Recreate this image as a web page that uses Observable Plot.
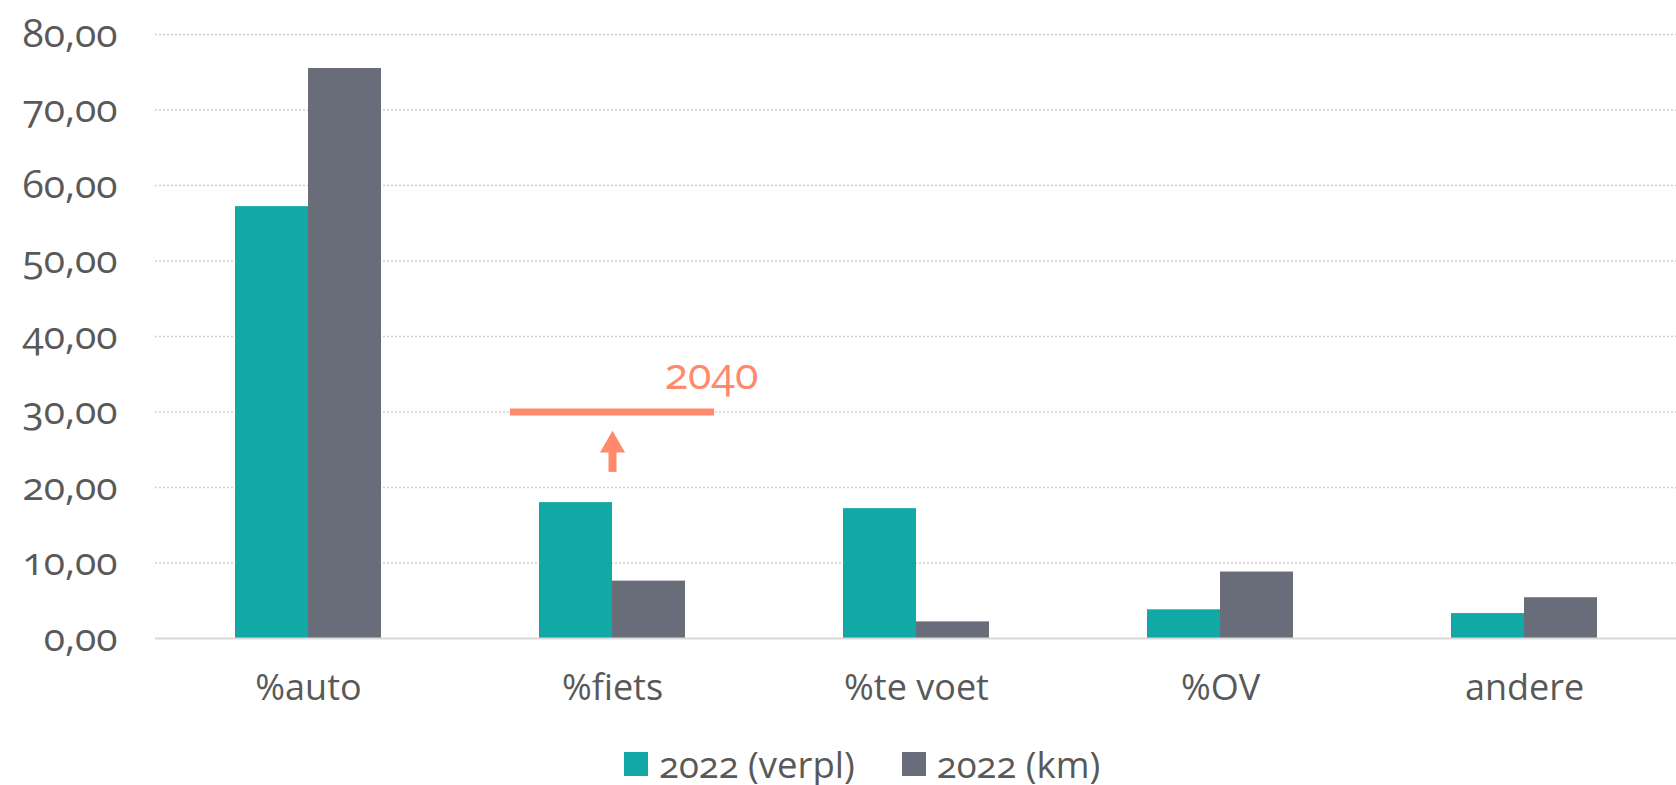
<!DOCTYPE html>
<html><head><meta charset="utf-8">
<script src="https://cdn.jsdelivr.net/npm/d3@7"></script>
<script src="https://cdn.jsdelivr.net/npm/@observablehq/plot@0.6"></script>
<style>
body{margin:0;background:#fff;overflow:hidden;font-family:"Open Sans",sans-serif;font-variant-numeric:oldstyle-nums;font-feature-settings:"onum" 1;color:#595959}
#legend{display:flex;align-items:center;height:50px;box-sizing:border-box;padding-top:8px;padding-left:624px;font-size:36.5px;line-height:38px}
.sw{width:24px;height:24px;margin-right:11px;display:inline-block}
.item{display:flex;align-items:center;margin-right:47px;height:38px}
</style></head><body><div id="chart"></div><div id="legend"></div>
<script>
const categories = ["%auto", "%fiets", "%te voet", "%OV", "andere"];
const series = ["2022 (verpl)", "2022 (km)"];
const verpl = [57.2, 18.0, 17.2, 3.8, 3.3];
const km = [75.5, 7.6, 2.2, 8.8, 5.4];
const colors = ["#11A8A6", "#686D79"];
const yTicks = [0, 10, 20, 30, 40, 50, 60, 70, 80];
const goal = [{category: "%fiets", value: 30, label: "2040"}];
const arrow = [{category: "%fiets", from: 22, to: 27.5}];
const accent = "#FF896B";

const rows = categories.flatMap((c, i) => [
  {category: c, series: series[0], value: verpl[i]},
  {category: c, series: series[1], value: km[i]}
]);
const fmt = d => d.toFixed(2).replace(".", ",");

const chart = Plot.plot({
  width: 1676, height: 735,
  marginTop: 34, marginBottom: 97, marginLeft: 155, marginRight: 0,
  style: {fontFamily: "'Open Sans', sans-serif", fontSize: "36px", color: "#595959", background: "#fff", fontVariantNumeric: "oldstyle-nums", fontFeatureSettings: '"onum" 1'},
  x: {domain: categories, paddingInner: 0.52, paddingOuter: 0.26, axis: null, label: null},
  y: {domain: [0, 80], axis: null, label: null},
  color: {domain: series, range: colors},
  marks: [
    Plot.gridY(yTicks.filter(d => d > 0), {stroke: "#cfcfcf", strokeOpacity: 1, strokeWidth: 1.5, strokeDasharray: "2,2"}),
    Plot.barY(rows.filter(d => d.series === series[0]), {x: "category", y: "value", fill: "series", insetRight: 73}),
    Plot.barY(rows.filter(d => d.series === series[1]), {x: "category", y: "value", fill: "series", insetLeft: 73}),
    Plot.ruleY([0], {stroke: "#d9d9d9", strokeWidth: 2}),
    Plot.tickY(goal, {x: "category", y: "value", stroke: accent, strokeWidth: 7, insetLeft: -29, insetRight: -29}),
    Plot.text(goal, {x: "category", y: "value", text: "label", dx: 99, dy: -37, fill: accent, fontSize: 43}),
    Plot.ruleX(arrow, {x: "category", y1: "from", y2: d => d.to - 1.6, stroke: accent, strokeWidth: 8}),
    Plot.dot(arrow, {x: "category", y: "to", symbol: "triangle", r: 9.3, fill: accent, stroke: "none", dy: 14.4}),
    Plot.axisX({tickSize: 0, tickPadding: 36, fontSize: 36, label: null}),
    Plot.axisY({ticks: yTicks, tickFormat: fmt, tickSize: 0, tickPadding: 38, fontSize: 39, label: null})
  ]
});
document.getElementById("chart").append(chart);

const legend = d3.select("#legend");
series.forEach((s, i) => {
  const item = legend.append("div").attr("class", "item");
  item.append("span").attr("class", "sw").style("background", colors[i]);
  item.append("span").text(s);
});
</script></body></html>
